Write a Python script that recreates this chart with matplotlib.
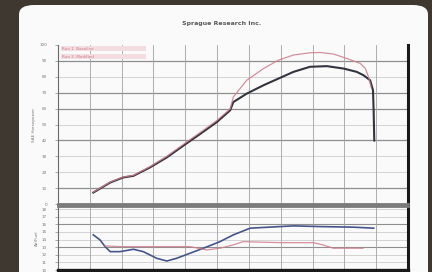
import matplotlib.pyplot as plt
from matplotlib.patches import FancyBboxPatch, Rectangle

# ---- data (rpm grid units, upper = power units, lower = A/F units) ----
pw_x_base = [1.11, 1.64, 2.05, 2.37, 2.89, 3.42, 3.94, 4.47, 4.99, 5.41, 5.51, 5.93,
             6.46, 6.93, 7.40, 7.92, 8.45, 8.97, 9.39, 9.60, 9.81, 9.90, 9.92, 9.94]
pw_y_base = [0.72, 1.35, 1.67, 1.77, 2.30, 2.93, 3.67, 4.41, 5.15, 5.89, 6.41, 6.94,
             7.47, 7.89, 8.31, 8.63, 8.67, 8.52, 8.31, 8.10, 7.78, 7.15, 5.89, 3.99]

pw_x_mod = [1.11, 1.64, 2.05, 2.37, 2.89, 3.42, 3.94, 4.47, 4.99, 5.41, 5.51, 5.93,
            6.46, 6.93, 7.40, 7.92, 8.24, 8.66, 9.08, 9.50, 9.66, 9.76, 9.84]
pw_y_mod = [0.75, 1.38, 1.70, 1.80, 2.35, 3.00, 3.75, 4.50, 5.25, 5.98, 6.73, 7.78,
            8.52, 9.05, 9.37, 9.51, 9.53, 9.43, 9.15, 8.84, 8.52, 7.99, 7.36]

af_x_base = [1.11, 1.32, 1.48, 1.64, 1.95, 2.37, 2.68, 3.10, 3.42, 3.73, 4.15, 4.57,
             5.09, 5.51, 6.04, 6.98, 7.40, 8.24, 9.29, 9.92]
af_y_base = [4.61, 3.95, 3.07, 2.41, 2.41, 2.72, 2.41, 1.54, 1.18, 1.54, 2.20, 2.86,
             3.72, 4.61, 5.49, 5.70, 5.79, 5.70, 5.62, 5.49]

af_x_mod = [1.48, 1.95, 2.89, 4.15, 4.68, 5.09, 5.50, 5.82, 6.98, 8.02, 8.33, 8.65, 9.59]
af_y_mod = [3.16, 3.07, 3.07, 3.07, 2.63, 2.86, 3.29, 3.72, 3.59, 3.59, 3.29, 2.86, 2.86]

pw_ticks = list(range(0, 11))
pw_labels = ["0", "10", "20", "30", "40", "50", "60", "70", "80", "90", "100"]
af_ticks = list(range(0, 9))
af_labels = ["10", "11", "12", "13", "14", "15", "16", "17", "18"]

title = "Sprague Research Inc."
legend_rows = ["Run 1  Baseline", "Run 2  Modified"]

C_BG = "#3e3830"
C_BASE = "#34343f"
C_MOD = "#cf7d8a"
C_BLUE = "#46558a"
C_GRID = "#c4c4c4"
C_GRID_DK = "#8e8e8e"

fig = plt.figure(figsize=(4.32, 2.72), dpi=100)
fig.patch.set_facecolor(C_BG)

# white card with rounded corners
card = FancyBboxPatch((19 / 432, -0.1), 409 / 432, 1.1 - 5 / 272,
                      boxstyle="round,pad=0,rounding_size=0.035",
                      transform=fig.transFigure, facecolor="#fafafa",
                      edgecolor="none", zorder=-5)
fig.patches.append(card)

fig.text(222 / 432, 1 - 24 / 272, title, ha="center", va="center",
         fontsize=4.5, fontweight="bold", color="#5a5a5a")

ax1 = fig.add_axes([58 / 432, 1 - 204 / 272, 350 / 432, 159 / 272])
ax2 = fig.add_axes([58 / 432, 1 - 270 / 272, 350 / 432, 64 / 272], sharex=ax1)

for ax in (ax1, ax2):
    ax.set_facecolor("none")
    ax.set_xlim(0, 11)
    ax.set_xticks(range(0, 12))
    ax.tick_params(axis="x", length=0, labelbottom=False)
    ax.tick_params(axis="y", length=2, width=0.5, color="#888888",
                   labelsize=3, labelcolor="#777777", pad=6)
    ax.grid(axis="x", color="#a2a2a2", lw=0.6)
    ax.spines["left"].set_color("#6a6a6a")
    ax.spines["left"].set_linewidth(0.8)
    ax.spines["right"].set_color("#1a1a1a")
    ax.spines["right"].set_linewidth(2.2)

# upper panel
ax1.set_ylim(0, 10)
ax1.set_yticks(pw_ticks)
ax1.set_yticklabels(pw_labels)
for t in pw_ticks[:-1]:
    dark = t in (1, 4, 6, 7, 9)
    ax1.axhline(t, color=C_GRID_DK if dark else C_GRID, lw=0.9 if dark else 0.5, zorder=1)
ax1.spines["top"].set_visible(False)
ax1.spines["bottom"].set_color("#7a7a7a")
ax1.spines["bottom"].set_linewidth(2.0)
ax1.plot(pw_x_base, pw_y_base, color=C_BASE, lw=1.5, zorder=3)
ax1.plot(pw_x_mod, pw_y_mod, color=C_MOD, lw=0.9, zorder=4, alpha=0.85)
ax1.set_ylabel("SAE Horsepower", fontsize=3, color="#777777", labelpad=2)

# legend bands
for i, row in enumerate(legend_rows):
    ax1.add_patch(Rectangle((0.08, 9.62 - i * 0.5), 2.7, 0.3, facecolor="#f3dde1",
                            edgecolor="none", zorder=2))
    ax1.text(0.12, 9.77 - i * 0.5, row, fontsize=3, color=C_MOD, va="center", zorder=3)

# lower panel
ax2.set_ylim(0, 8.4)
ax2.set_yticks(af_ticks)
ax2.set_yticklabels(af_labels)
for t in af_ticks:
    dark = t in (3, 6)
    ax2.axhline(t, color=C_GRID_DK if dark else C_GRID, lw=0.8 if dark else 0.5, zorder=1)
ax2.spines["top"].set_color("#7a7a7a")
ax2.spines["top"].set_linewidth(2.0)
ax2.spines["bottom"].set_color("#1a1a1a")
ax2.spines["bottom"].set_linewidth(2.4)
ax2.plot(af_x_base, af_y_base, color=C_BLUE, lw=1.2, zorder=3)
ax2.plot(af_x_mod, af_y_mod, color=C_MOD, lw=0.9, zorder=4, alpha=0.85)
ax2.set_ylabel("Air/Fuel", fontsize=3, color="#777777", labelpad=2)

fig.savefig("out.png", dpi=100, facecolor=fig.get_facecolor())
